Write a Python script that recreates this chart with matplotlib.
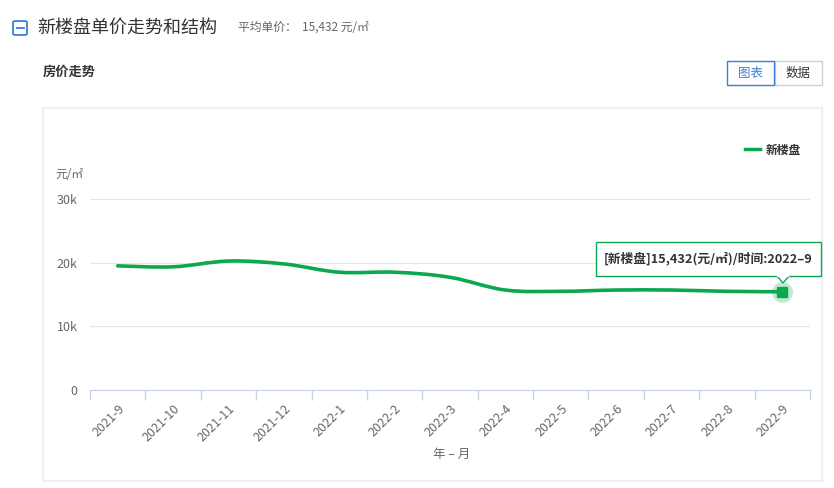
import matplotlib
matplotlib.use("Agg")
import matplotlib.pyplot as plt
from matplotlib.path import Path
from matplotlib.patches import PathPatch, Rectangle, FancyBboxPatch

plt.rcParams['font.family'] = ['Noto Sans CJK SC', 'DejaVu Sans']

months = ["2021-9", "2021-10", "2021-11", "2021-12", "2022-1", "2022-2", "2022-3",
          "2022-4", "2022-5", "2022-6", "2022-7", "2022-8", "2022-9"]
prices = [19500, 19350, 20250, 19800, 18500, 18500, 17700,
          15700, 15500, 15700, 15700, 15500, 15432]
yticks = [0, 10000, 20000, 30000]
ytick_labels = ["0", "10k", "20k", "30k"]

GREEN = "#0aa84f"
W, H = 834, 488


def fx(x):
    return x / W


def fy(y):
    return 1 - y / H


def smooth_path(xs, ys, s=0.35):
    # cubic bezier through the points, catmull-rom style control points
    verts = [(xs[0], ys[0])]
    codes = [Path.MOVETO]
    n = len(xs)
    for i in range(n - 1):
        x0, y0 = xs[max(i - 1, 0)], ys[max(i - 1, 0)]
        x1, y1 = xs[i], ys[i]
        x2, y2 = xs[i + 1], ys[i + 1]
        x3, y3 = xs[min(i + 2, n - 1)], ys[min(i + 2, n - 1)]
        c1 = (x1 + (x2 - x0) * s / 2, y1 + (y2 - y0) * s / 2)
        c2 = (x2 - (x3 - x1) * s / 2, y2 - (y3 - y1) * s / 2)
        verts += [c1, c2, (x2, y2)]
        codes += [Path.CURVE4] * 3
    return Path(verts, codes)


fig = plt.figure(figsize=(8.34, 4.88), dpi=100)

# header
fig.patches.append(FancyBboxPatch((fx(13), fy(35)), 14 / W, 14 / H,
                                  boxstyle="round,pad=0,rounding_size=0.003",
                                  transform=fig.transFigure, fill=False,
                                  edgecolor="#3b7fd9", linewidth=1.3))
fig.lines.append(plt.Line2D([fx(16.5), fx(23.5)], [fy(28), fy(28)],
                            transform=fig.transFigure, color="#3b7fd9", linewidth=1.3))
fig.text(fx(37), fy(28), "新楼盘单价走势和结构", fontsize=13, color="#333333", va="center")
fig.text(fx(238), fy(27), "平均单价：  15,432 元/㎡", fontsize=8.5, color="#666666", va="center")
fig.text(fx(43), fy(72), "房价走势", fontsize=9.5, color="#333333", va="center", fontweight="bold")

# buttons
fig.patches.append(Rectangle((fx(775), fy(85)), 47 / W, 24 / H, transform=fig.transFigure,
                             facecolor="white", edgecolor="#d0d0d0", linewidth=1))
fig.patches.append(Rectangle((fx(727), fy(85)), 47 / W, 24 / H, transform=fig.transFigure,
                             facecolor="white", edgecolor="#3b7fd9", linewidth=1))
fig.text(fx(750.5), fy(73), "图表", fontsize=9, color="#3b7fd9", ha="center", va="center")
fig.text(fx(798.5), fy(73), "数据", fontsize=9, color="#333333", ha="center", va="center")

# chart panel
fig.patches.append(Rectangle((fx(43), fy(481)), 779 / W, 373 / H, transform=fig.transFigure,
                             facecolor="none", edgecolor="#f0f0f0", linewidth=1.5))

ax = fig.add_axes([fx(90), fy(390), 720 / W, 191 / H])
x = list(range(len(months)))
ax.set_xlim(-0.5, len(months) - 0.5)
ax.set_ylim(0, 30000)

ax.add_patch(PathPatch(smooth_path(x, prices), facecolor="none", edgecolor=GREEN,
                       linewidth=2.6, capstyle="round", joinstyle="round", zorder=3))
ax.plot([x[-1]], [prices[-1]], "o", markersize=15, color=GREEN, alpha=0.25,
        markeredgewidth=0, zorder=4, clip_on=False)
ax.plot([x[-1]], [prices[-1]], "s", markersize=7, color=GREEN, zorder=5, clip_on=False)
ax.plot([], [], color=GREEN, linewidth=2.5, label="新楼盘")

for sp in ["top", "right", "left"]:
    ax.spines[sp].set_visible(False)
ax.spines["bottom"].set_color("#c6d2e8")

ax.set_yticks(yticks)
ax.set_yticklabels(ytick_labels)
ax.grid(axis="y", color="#e6e6e6", linewidth=0.8)
ax.set_axisbelow(True)
ax.tick_params(axis="y", length=0, pad=9, labelsize=9, labelcolor="#666666")

ax.set_xticks(x)
ax.set_xticklabels(months, rotation=45, ha="right", rotation_mode="anchor")
ax.tick_params(axis="x", which="major", length=0, pad=9, labelsize=9, labelcolor="#666666")
ax.set_xticks([i - 0.5 for i in range(len(months) + 1)], minor=True)
ax.tick_params(axis="x", which="minor", length=7, color="#c6d2e8", width=1)

fig.text(fx(452), fy(454), "年 – 月", fontsize=9, color="#666666", ha="center", va="center")
fig.text(fx(55), fy(175), "元/㎡", fontsize=8.5, color="#666666", va="center")

leg = ax.legend(loc="upper right", bbox_to_anchor=(fx(812), fy(133)),
                bbox_transform=fig.transFigure, frameon=False, handlelength=1.3,
                handletextpad=0.5, prop={"size": 8.5, "weight": "bold"})
for t in leg.get_texts():
    t.set_color("#333333")

# tooltip
fig.patches.append(Rectangle((fx(596), fy(276)), 225 / W, 34 / H, transform=fig.transFigure,
                             facecolor="white", edgecolor=GREEN, linewidth=1, zorder=6))
fig.text(fx(708), fy(258), "[新楼盘]15,432(元/㎡)/时间:2022–9", fontsize=9.2,
         color="#333333", ha="center", va="center", fontweight="bold", zorder=7)
fig.patches.append(plt.Polygon([(fx(777), fy(276)), (fx(789), fy(276)), (fx(783), fy(283))],
                               closed=True, transform=fig.transFigure, facecolor="white",
                               edgecolor=GREEN, linewidth=1, zorder=6))
fig.lines.append(plt.Line2D([fx(778), fx(788)], [fy(276), fy(276)], transform=fig.transFigure,
                            color="white", linewidth=1.5, zorder=7))

fig.savefig("out.png", dpi=100)
